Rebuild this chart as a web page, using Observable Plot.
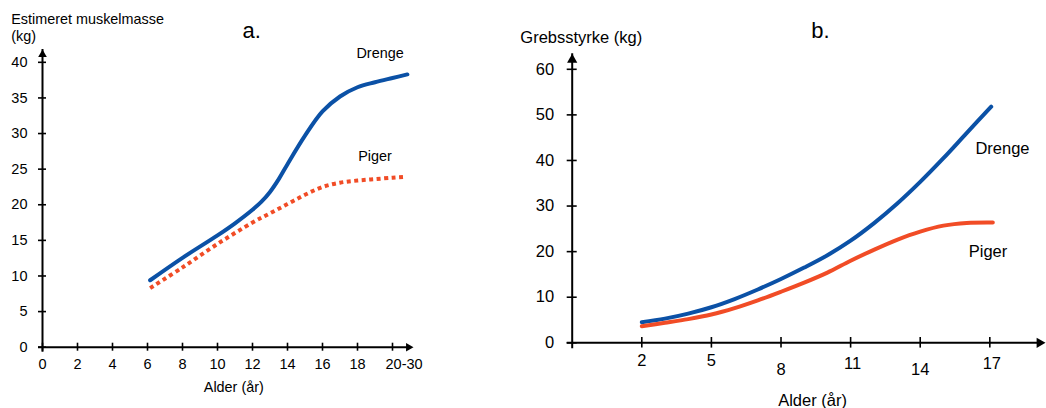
<!DOCTYPE html>
<html><head><meta charset="utf-8">
<script src="https://cdn.jsdelivr.net/npm/d3@7"></script>
<script src="https://cdn.jsdelivr.net/npm/@observablehq/plot@0.6"></script>
<style>
body{margin:0;background:#fff;}
#wrap{position:relative;width:1046px;height:408px;overflow:hidden;font-family:"Liberation Sans",Arial,sans-serif;}
#a{position:absolute;left:0;top:0;}
#b{position:absolute;left:500px;top:0;}
</style></head><body><div id="wrap"><div id="a"></div><div id="b"></div></div>
<script>
// ---------- Panel a: estimated muscle mass ----------
const aBoysAge  = [6.15, 8, 10, 11, 12, 12.5, 13, 13.5, 14, 15, 16, 17, 18, 19, 20, 20.85];
const aBoysMass = [9.4, 12.55, 15.7, 17.4, 19.3, 20.4, 21.8, 23.6, 25.7, 29.7, 33.1, 35.2, 36.5, 37.2, 37.8, 38.3];
const aGirlsAge  = [6.15, 8, 10, 12, 13, 14, 15, 16, 17, 18, 19, 20, 20.6];
const aGirlsMass = [8.3, 11.2, 14.5, 17.5, 18.8, 20.1, 21.4, 22.5, 23.1, 23.4, 23.6, 23.8, 23.9];
const aXTicks = [0, 2, 4, 6, 8, 10, 12, 14, 16, 18];
const aXLastTick = [20];
const aXLastLabel = "20-30";
const aYTicks = [0, 5, 10, 15, 20, 25, 30, 35, 40];
const aXEnd = 21.2, aYEnd = 41.8;

// ---------- Panel b: grip strength ----------
const bAge = [2, 3, 4, 5, 6, 7, 8, 9, 10, 11, 12, 13, 14, 15, 16, 17.06];
const bBoys = [4.5, 5.3, 6.4, 7.8, 9.6, 11.7, 14.0, 16.5, 19.2, 22.4, 26.2, 30.5, 35.3, 40.5, 46.0, 51.8];
const bGirlsAge = [2, 3, 4, 5, 6, 7, 8, 9, 10, 11, 12, 13, 14, 15, 16, 17.13];
const bGirls = [3.65, 4.4, 5.2, 6.2, 7.6, 9.3, 11.2, 13.2, 15.4, 18.0, 20.4, 22.6, 24.4, 25.7, 26.3, 26.4];
const bXTicksA = [2, 5];
const bXTicksB = [11, 17];
const bXTicksC = [8, 14];
const bYTicks = [0, 10, 20, 30, 40, 50, 60];
const bXStart = -1, bXEnd = 19.4, bYEnd = 63.4;

const ff = '"Liberation Sans", Arial, sans-serif';
const blue = "#0b51a6", red = "#f14c26";
const style = {background: "none", color: "black", overflow: "visible", fontFamily: ff};
function tipOffset(r) { return 2 * Math.sqrt(Math.PI * r * r / (3 * Math.sqrt(3))); }

const A = Plot.plot({
  width: 500, height: 408,
  marginLeft: 42, marginRight: 87, marginTop: 49, marginBottom: 61.3,
  x: {domain: [0, aXEnd]}, y: {domain: [0, aYEnd]},
  style,
  marks: [
    Plot.ruleY([0], {x1: 0, x2: aXEnd, insetLeft: -4, insetRight: 5, stroke: "black", strokeWidth: 2}),
    Plot.ruleX([0], {y1: 0, y2: aYEnd, insetTop: 5, stroke: "black", strokeWidth: 2}),
    Plot.ruleY(aYTicks, {x1: 0, x2: 0, insetLeft: -4, insetRight: -4, stroke: "black", strokeWidth: 1.6}),
    Plot.ruleX(aXTicks.concat(aXLastTick), {y1: 0, y2: 0, insetTop: -4, insetBottom: -4, stroke: "black", strokeWidth: 1.6}),
    Plot.dot([0], {x: aXEnd, y: 0, symbol: "triangle", r: 3.2, rotate: 90, dx: -tipOffset(3.2), fill: "black", stroke: null}),
    Plot.dot([0], {x: 0, y: aYEnd, symbol: "triangle", r: 3.2, dy: tipOffset(3.2), fill: "black", stroke: null}),
    Plot.axisY(aYTicks, {anchor: "left", tickSize: 0, tickPadding: 15, fontSize: 14.5, fontFamily: ff, label: null}),
    Plot.axisX(aXTicks, {anchor: "bottom", tickSize: 0, tickPadding: 12, fontSize: 14.5, fontFamily: ff, label: null}),
    Plot.axisX(aXLastTick, {anchor: "bottom", tickSize: 0, tickPadding: 12, fontSize: 14.5, fontFamily: ff, label: null,
      tickFormat: () => aXLastLabel, textAnchor: "start", dx: -7}),
    Plot.line(aBoysAge, {x: aBoysAge, y: aBoysMass, curve: "catmull-rom", stroke: blue, strokeWidth: 4}),
    Plot.line(aGirlsAge, {x: aGirlsAge, y: aGirlsMass, curve: "catmull-rom", stroke: red, strokeWidth: 4,
      strokeDasharray: "4,3.5", strokeLinecap: "butt"}),
    Plot.text(["Drenge"], {x: 17.94, y: 40.62, textAnchor: "start", lineAnchor: "bottom", fontSize: 14.4, fontFamily: ff}),
    Plot.text(["Piger"], {x: 18.04, y: 26.2, textAnchor: "start", lineAnchor: "bottom", fontSize: 14.4, fontFamily: ff}),
    Plot.text(["a."], {frameAnchor: "top-left", dx: 200, dy: -11.7, textAnchor: "start", lineAnchor: "bottom", fontSize: 22, fontFamily: ff}),
    Plot.text(["Estimeret muskelmasse\n(kg)"], {frameAnchor: "top-left", dx: -31.3, dy: -9, textAnchor: "start",
      lineAnchor: "bottom", lineHeight: 1.12, fontSize: 14.4, fontFamily: ff}),
    Plot.text(["Alder (år)"], {frameAnchor: "bottom-left", dx: 191.3, dy: 45, textAnchor: "middle", lineAnchor: "bottom", fontSize: 14.4, fontFamily: ff})
  ]
});
document.getElementById("a").appendChild(A);

const B = Plot.plot({
  width: 546, height: 408,
  marginLeft: 71.7, marginRight: 1, marginTop: 53.3, marginBottom: 65.7,
  x: {domain: [bXStart, bXEnd]}, y: {domain: [0, bYEnd]},
  style,
  marks: [
    Plot.ruleY([0], {x1: bXStart, x2: bXEnd, insetLeft: -5, insetRight: 6, stroke: "black", strokeWidth: 2}),
    Plot.ruleX([bXStart], {y1: 0, y2: bYEnd, insetTop: 6, stroke: "black", strokeWidth: 2}),
    Plot.ruleY(bYTicks, {x1: bXStart, x2: bXStart, insetLeft: -5, insetRight: -5, stroke: "black", strokeWidth: 1.6}),
    Plot.ruleX(bXTicksA.concat(bXTicksB, bXTicksC), {y1: 0, y2: 0, insetTop: -5.3, insetBottom: -5.3, stroke: "black", strokeWidth: 1.6}),
    Plot.dot([0], {x: bXEnd, y: 0, symbol: "triangle", r: 3.8, rotate: 90, dx: -tipOffset(3.8), fill: "black", stroke: null}),
    Plot.dot([0], {x: bXStart, y: bYEnd, symbol: "triangle", r: 3.8, dy: tipOffset(3.8), fill: "black", stroke: null}),
    Plot.axisY(bYTicks, {anchor: "left", tickSize: 0, tickPadding: 18, fontSize: 16.5, fontFamily: ff, label: null}),
    Plot.axisX(bXTicksA, {anchor: "bottom", tickSize: 0, tickPadding: 11, fontSize: 16.5, fontFamily: ff, label: null}),
    Plot.axisX(bXTicksB, {anchor: "bottom", tickSize: 0, tickPadding: 14.5, fontSize: 16.5, fontFamily: ff, label: null, dx: 2}),
    Plot.axisX(bXTicksC, {anchor: "bottom", tickSize: 0, tickPadding: 20.5, fontSize: 16.5, fontFamily: ff, label: null}),
    Plot.line(bAge, {x: bAge, y: bBoys, curve: "catmull-rom", stroke: blue, strokeWidth: 4}),
    Plot.line(bGirlsAge, {x: bGirlsAge, y: bGirls, curve: "catmull-rom", stroke: red, strokeWidth: 4}),
    Plot.text(["Drenge"], {x: 16.38, y: 41.45, textAnchor: "start", lineAnchor: "bottom", fontSize: 16.5, fontFamily: ff}),
    Plot.text(["Piger"], {x: 16.09, y: 18.93, textAnchor: "start", lineAnchor: "bottom", fontSize: 16.5, fontFamily: ff}),
    Plot.text(["b."], {frameAnchor: "top-left", dx: 239, dy: -16, textAnchor: "start", lineAnchor: "bottom", fontSize: 22, fontFamily: ff}),
    Plot.text(["Grebsstyrke (kg)"], {frameAnchor: "top-left", dx: -51.9, dy: -10.6, textAnchor: "start", lineAnchor: "bottom", fontSize: 16.5, fontFamily: ff}),
    Plot.text(["Alder (år)"], {frameAnchor: "bottom-left", dx: 240.3, dy: 62.7, textAnchor: "middle", lineAnchor: "bottom", fontSize: 16.5, fontFamily: ff})
  ]
});
document.getElementById("b").appendChild(B);
</script>
</body></html>
